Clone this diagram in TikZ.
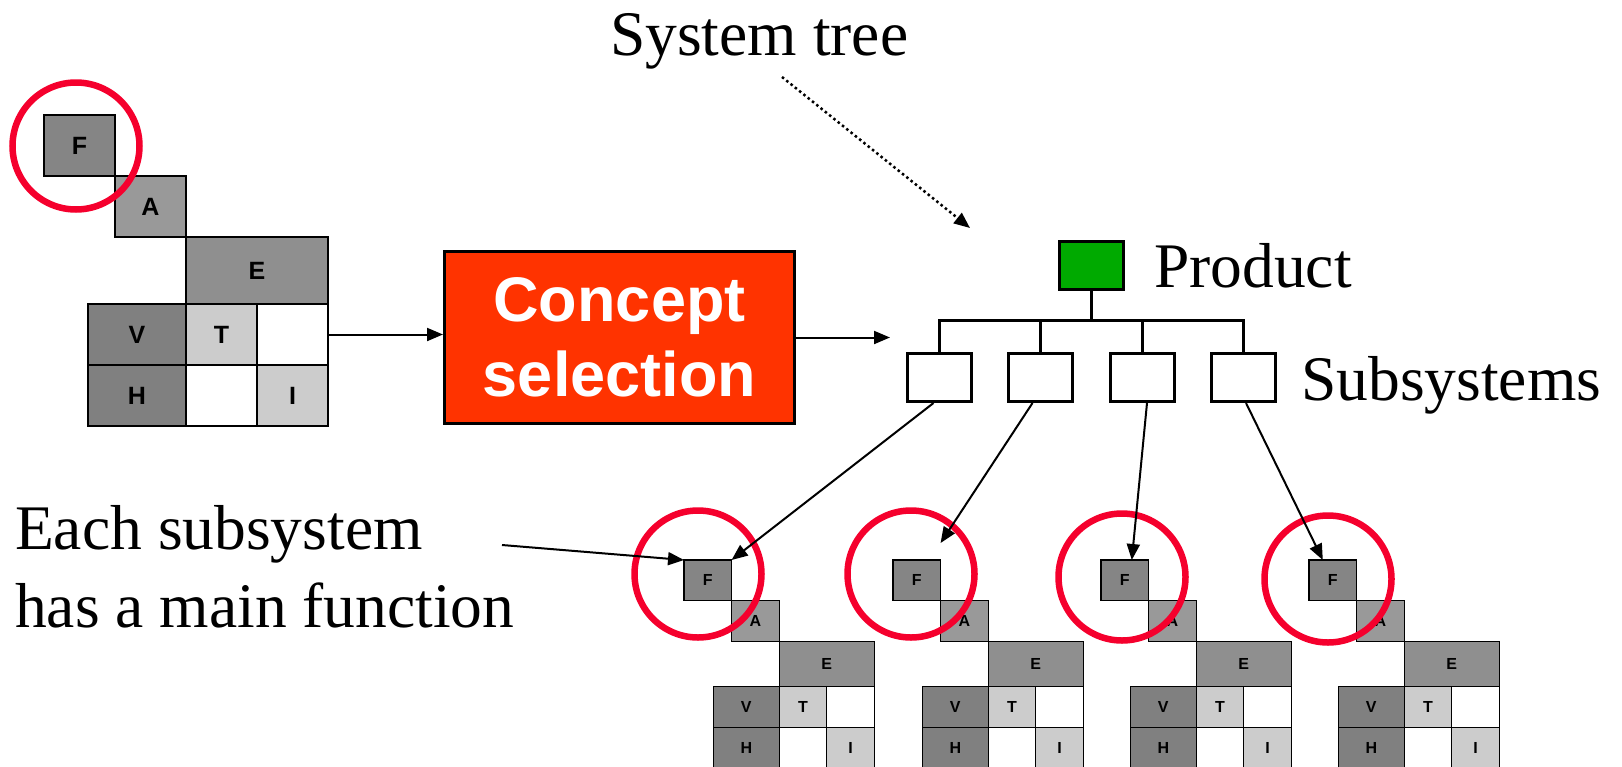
\documentclass[tikz,border=0pt]{standalone}
\usepackage{fontspec}
\setmainfont{Liberation Serif}
\setsansfont{Liberation Sans}
\usetikzlibrary{
  arrows.meta,
  positioning
}
\definecolor{ringred}{RGB}{245,0,45}
\definecolor{conceptred}{RGB}{255,51,0}
\definecolor{productgreen}{RGB}{0,170,0}
\tikzset{
  cell/.style={
    draw,
    line width=1.2pt,
    inner sep=0pt,
    outer sep=0pt,
    anchor=north west,
    font=\sffamily\bfseries\fontsize{\cellfont}{\cellfont}\selectfont
  },
  ring/.style={
    circle,
    draw=ringred,
    line width=6.5pt,
    inner sep=0pt,
    minimum size=127pt
  },
  tbox/.style={
    draw,
    line width=3pt,
    inner sep=0pt,
    minimum width=64pt,
    minimum height=48pt
  },
  tree/.style={
    line width=3pt
  },
  pointer/.style={
    line width=2pt,
    -{Triangle[length=16pt,width=13pt]}
  },
  bigtext/.style={
    inner sep=0pt,
    anchor=base west,
    font=\fontsize{63.5}{75}\selectfont
  }
}
% F-A-E-V-T-H-I block: name, corner of F, scale, letter size
\newcommand\faBlock[4]{%
  \def\cellfont{#4}%
  \node[cell, fill=black!48, minimum width={71*#3}, minimum height={61*#3}] (#1F) at #2 {F};
  \node[cell, fill=black!40, minimum width={71*#3}, minimum height={61*#3}] (#1A) at (#1F.south east) {A};
  \node[cell, fill=black!44, minimum width={142*#3}, minimum height={67*#3}] (#1E) at (#1A.south east) {E};
  \node[cell, fill=black!20, minimum width={71*#3}, minimum height={61*#3}] (#1T) at (#1E.south west) {T};
  \node[cell, fill=white, minimum width={71*#3}, minimum height={61*#3}] (#1X) at (#1T.north east) {};
  \node[cell, fill=black!50, anchor=north east, minimum width={98*#3}, minimum height={61*#3}] (#1V) at (#1T.north west) {V};
  \node[cell, fill=black!50, minimum width={98*#3}, minimum height={61*#3}] (#1H) at (#1V.south west) {H};
  \node[cell, fill=white, minimum width={71*#3}, minimum height={61*#3}] (#1Y) at (#1T.south west) {};
  \node[cell, fill=black!20, minimum width={71*#3}, minimum height={61*#3}] (#1I) at (#1Y.north east) {I};
}

\begin{document}
\begin{tikzpicture}[x=1pt, y=-1pt]
  \useasboundingbox (0,0) rectangle (1622,766);

  \faBlock{big}{(44,115)}{1}{25}
  \faBlock{s1}{(684,560)}{0.67}{16}
  \faBlock{s2}{(893,560)}{0.67}{16}
  \faBlock{s3}{(1101,560)}{0.67}{16}
  \faBlock{s4}{(1309,560)}{0.67}{16}

  \node[ring] (bigring) at (76,146) {};
  \node[ring] (ring1) at (698,574) {};
  \node[ring] (ring2) at (911,574) {};
  \node[ring] (ring3) at (1122,577) {};
  \node[ring] (ring4) at (1328,579) {};

  \node[draw, line width=3pt, fill=conceptred, text=white, align=center,
        minimum width=350pt, minimum height=172pt,
        font=\sffamily\bfseries\fontsize{63}{75}\selectfont] (concept) at (619.5,337.5) {Concept\\selection};

  % system tree
  \node[tbox, fill=productgreen] (prod) at (1091.5,265.5) {};
  \foreach \i/\x in {1/939.5, 2/1040.5, 3/1142, 4/1243}
    \node[tbox] (sub\i) at (\x,377.5) {};
  \coordinate (bus) at (1091.5,320);
  \draw[tree] (prod.south) -- (bus);
  \foreach \i in {1,...,4}
    \draw[tree] (bus) -| (sub\i.north);

  \node[bigtext] (treelabel) at (610,55) {System tree};
  \node[bigtext] (prodlabel) at (1154,287) {Product};
  \node[bigtext] (sublabel) at (1301,400) {Subsystems};
  \node[bigtext] (note1) at (15,549) {Each subsystem};
  \node[bigtext] (note2) at (15,627) {has a main function};

  % arrows
  \coordinate (treein) at (890,337.5);
  \coordinate (dotstart) at (782,77);
  \coordinate (dotend) at (970,228);
  \coordinate (noteout) at (502,545);
  \draw[pointer] (bigX.east) -- (bigX.east -| concept.west);
  \draw[pointer] (concept) -- (treein);
  \draw[pointer, line width=2.5pt, dash pattern=on 2.5pt off 3pt] (dotstart) -- (dotend);
  \draw[pointer] (noteout) -- (s1F.north west);
  \draw[pointer] ([xshift=-6pt]sub1.south) -- (s1F.north east);
  \draw[pointer] ([xshift=-8pt]sub2.south) -- ([yshift=17pt]s2F.north east);
  \draw[pointer] ([xshift=5pt]sub3.south) -- ([xshift=7pt]s3F.north);
  \draw[pointer] ([xshift=3pt]sub4.south) -- ([xshift=-10pt]s4F.north);
\end{tikzpicture}
\end{document}
